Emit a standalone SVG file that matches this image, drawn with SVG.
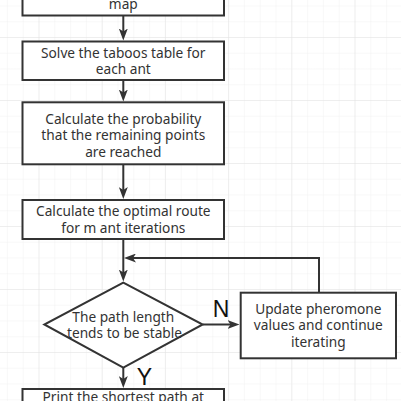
<svg xmlns="http://www.w3.org/2000/svg" width="401" height="401" viewBox="0 0 401 401">
<defs>
<pattern id="minor" x="38.5" y="37" width="15.8" height="15.75" patternUnits="userSpaceOnUse">
<path d="M0,0 V15.75 M0,0 H15.8" fill="none" stroke="#f1f1f1" stroke-width="1"/>
</pattern>
<pattern id="major" x="38.5" y="37" width="63.2" height="63" patternUnits="userSpaceOnUse">
<path d="M0,0 V63 M0,0 H63.2" fill="none" stroke="#e4e4e4" stroke-width="1"/>
</pattern>
<marker id="arr" viewBox="0 0 12 9" refX="4" refY="4.5" markerWidth="12" markerHeight="9" markerUnits="userSpaceOnUse" orient="auto">
<path d="M0,0 L12,4.5 L0,9 L3,4.5 Z" fill="#333"/>
</marker>
</defs>
<style>
.box{fill:#fff;stroke:#333;stroke-width:2}
.t{font-family:"Noto Sans","Open Sans",sans-serif;font-size:13.7px;fill:#333;text-anchor:middle}
.lbl{font-family:"Liberation Sans","Noto Sans",sans-serif;font-size:23px;fill:#111;text-anchor:middle}
.c{fill:none;stroke:#333;stroke-width:2;marker-end:url(#arr)}
</style>
<rect width="401" height="401" fill="#fff"/>
<rect width="401" height="401" fill="url(#minor)"/>
<rect width="401" height="401" fill="url(#major)"/>

<g id="connectors">
<path class="c" d="M123.3,15.5 V32.5"/>
<path class="c" d="M123.3,80 V93.5"/>
<path class="c" d="M123.3,164.3 V191"/>
<path class="c" d="M123.3,239 V273.5"/>
<path class="c" d="M319,292.7 V258 H132"/>
<path class="c" d="M202.7,324.5 H231.5"/>
<path class="c" d="M123.3,367.7 V380"/>
</g>

<g id="node-init">
<rect class="box" x="22.5" y="-20" width="201.5" height="35.5"/>
<text class="t" x="123.3" y="9">map</text>
</g>
<g id="node-taboo">
<rect class="box" x="22.5" y="41.5" width="201.5" height="38.5"/>
<text class="t" x="123.3" y="57.5">Solve the taboos table for</text>
<text class="t" x="123.3" y="74">each ant</text>
</g>
<g id="node-prob">
<rect class="box" x="22.5" y="102.3" width="201.5" height="62"/>
<text class="t" x="123.3" y="123.5">Calculate the probability</text>
<text class="t" x="123.3" y="140">that the remaining points</text>
<text class="t" x="123.3" y="156.5">are reached</text>
</g>
<g id="node-route">
<rect class="box" x="22.5" y="200" width="201.5" height="39"/>
<text class="t" x="123.3" y="216">Calculate the optimal route</text>
<text class="t" x="123.3" y="232.5">for m ant iterations</text>
</g>
<g id="node-decision">
<polygon class="box" points="123.3,282.7 202.7,324.5 123.3,367.7 44.3,324.5"/>
<text class="t" x="123.3" y="321.5">The path length</text>
<text class="t" x="124.5" y="338">tends to be stable</text>
</g>
<g id="node-update">
<rect class="box" x="240.7" y="292.7" width="155.3" height="65.6"/>
<text class="t" x="318.3" y="313.5">Update pheromone</text>
<text class="t" x="318.3" y="330">values and continue</text>
<text class="t" x="318.3" y="346.5">iterating</text>
</g>
<g id="node-print">
<rect class="box" x="22.5" y="389" width="201.5" height="40"/>
<text class="t" x="123.3" y="402.3">Print the shortest path at</text>
</g>
<g id="labels">
<text class="lbl" x="221" y="316.5">N</text>
<text class="lbl" x="144.5" y="385">Y</text>
</g>
</svg>
